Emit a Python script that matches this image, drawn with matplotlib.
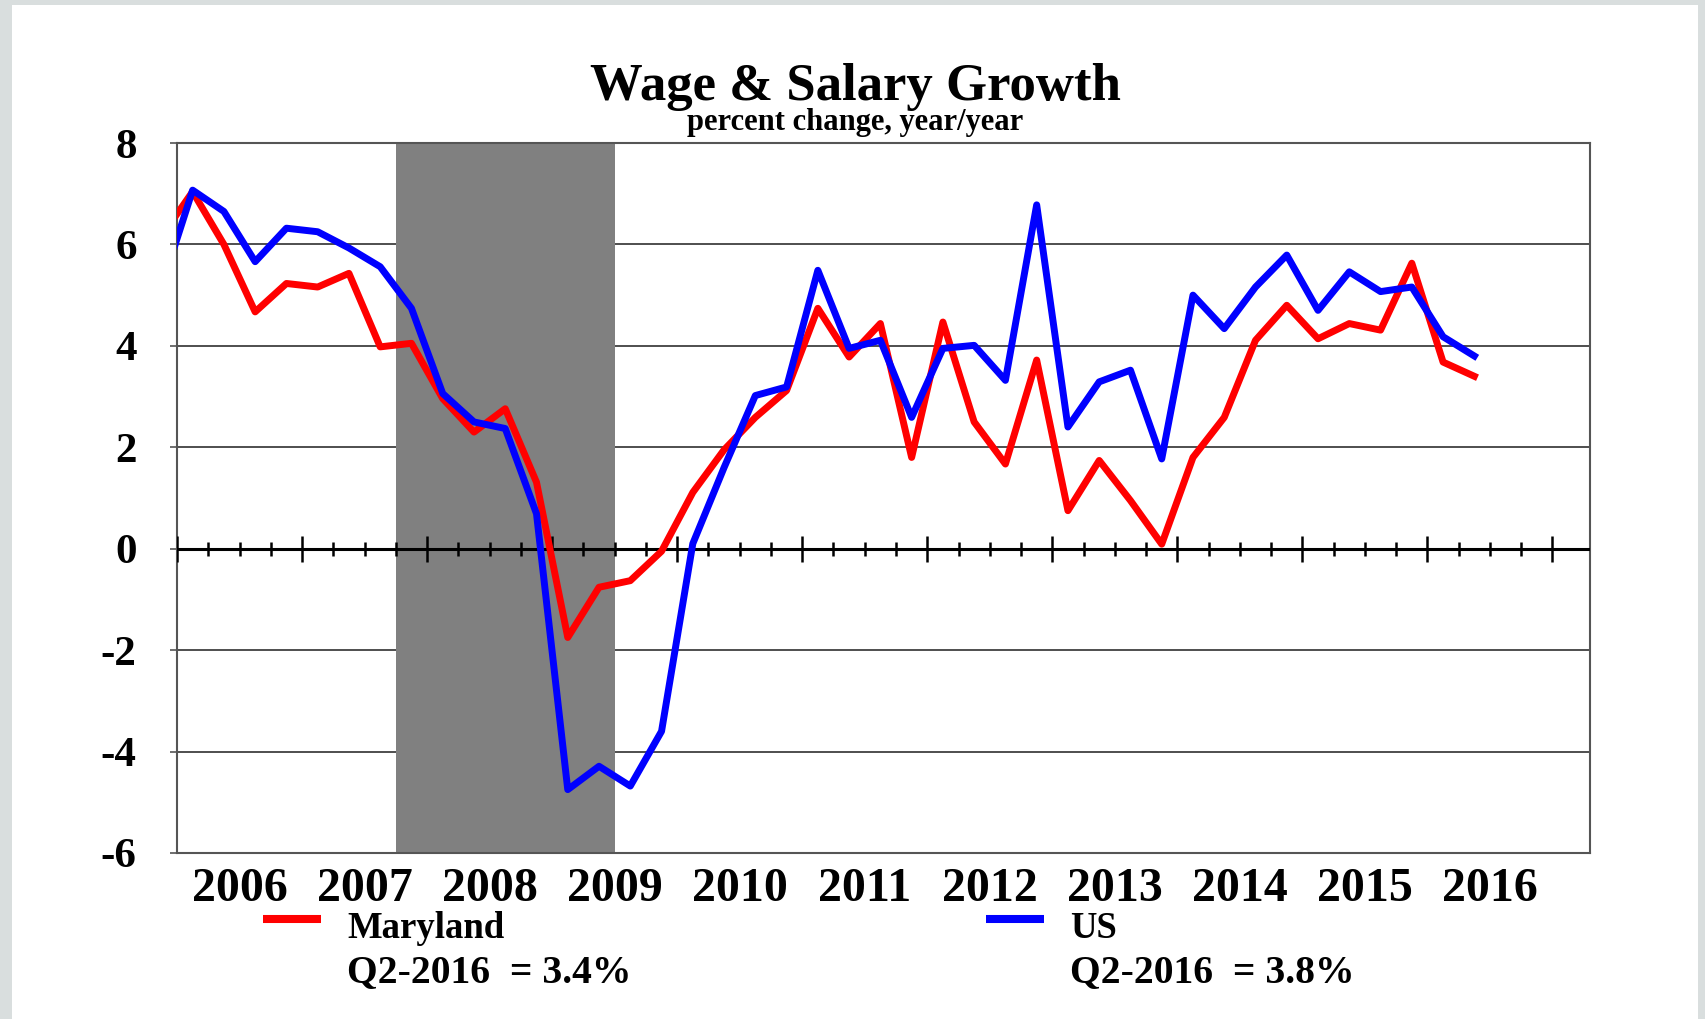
import numpy as np
import matplotlib
matplotlib.use("Agg")
import matplotlib.pyplot as plt
from matplotlib.lines import Line2D
from matplotlib.patches import Rectangle

plt.rcParams["font.family"] = ["Liberation Serif", "DejaVu Serif"]
plt.rcParams["font.weight"] = "bold"
plt.rcParams["axes.unicode_minus"] = False

# quarterly wage & salary growth, % y/y, first value is 2005 Q4 (just off the axis)
first_quarter = 2005.75
maryland = [6.16,
            7.04, 6.00, 4.67, 5.23,
            5.16, 5.43, 3.98, 4.05,
            2.96, 2.30, 2.76, 1.31,
            -1.75, -0.76, -0.63, -0.05,
            1.11, 1.95, 2.59, 3.12,
            4.74, 3.78, 4.44, 1.80,
            4.47, 2.50, 1.67, 3.72,
            0.75, 1.74, 0.95, 0.09,
            1.80, 2.59, 4.11, 4.80,
            4.14, 4.44, 4.31, 5.63,
            3.68, 3.40]
us = [5.15,
      7.07, 6.65, 5.66, 6.32,
      6.25, 5.93, 5.56, 4.74,
      3.06, 2.50, 2.37, 0.69,
      -4.75, -4.29, -4.68, -3.60,
      0.10, 1.60, 3.02, 3.19,
      5.49, 3.95, 4.11, 2.59,
      3.95, 4.01, 3.32, 6.78,
      2.40, 3.29, 3.52, 1.77,
      5.00, 4.34, 5.16, 5.79,
      4.70, 5.46, 5.07, 5.16,
      4.18, 3.80]
years = list(range(2006, 2017))
recession = (2007.75, 2009.5)
last_label = "Q2-2016"

W, H = 1705, 1019
fig = plt.figure(figsize=(W / 100, H / 100), dpi=100)
fig.patch.set_facecolor("#d9dede")
fig.add_artist(Rectangle((12 / W, 0), (1698 - 12) / W, (H - 5) / H,
                         transform=fig.transFigure, facecolor="white",
                         edgecolor="none", zorder=-1))

ax = fig.add_axes([177 / W, 1 - 853 / H, (1590 - 177) / W, (853 - 143) / H])
ax.set_facecolor("white")

x = first_quarter + 0.125 + 0.25 * np.arange(len(us))

ax.axvspan(*recession, color="#808080", lw=0, zorder=1)
ax.plot(x, maryland, color="#ff0000", lw=5.0, zorder=3)
ax.plot(x, us, color="#0000ff", lw=5.0, zorder=3)

# zero line with quarterly ticks, bigger ones at the year breaks
ax.axhline(0, color="black", lw=2.2, zorder=2.6)
qticks = np.arange(years[0], years[-1] + 1.01, 0.25)
major = np.isclose(qticks % 1, 0)
ax.vlines(qticks[major], -0.26, 0.26, color="black", lw=1.8, zorder=2.6)
ax.vlines(qticks[~major], -0.14, 0.14, color="black", lw=1.8, zorder=2.6)

ax.set_xlim(years[0], years[-1] + 1.3)
ax.set_ylim(-6, 8)
ax.set_yticks(range(-6, 9, 2))
ax.yaxis.grid(True, color="#303030", lw=1.2)
ax.set_axisbelow(True)
ax.tick_params(axis="y", direction="out", length=5, width=1.2, color="#555555",
               pad=24, labelsize=31)
ax.set_xticks([yr + 0.5 for yr in years])
ax.set_xticklabels([str(yr) for yr in years])
ax.tick_params(axis="x", length=0, pad=10, labelsize=34.5)
for side in ["left", "right", "top", "bottom"]:
    ax.spines[side].set_color("#555555")
    ax.spines[side].set_linewidth(1.5)

fig.text(855 / W, 1 - 100 / H, "Wage & Salary Growth", ha="center",
         va="baseline", fontsize=38)
fig.text(855 / W, 1 - 130 / H, "percent change, year/year", ha="center",
         va="baseline", fontsize=22)

# legend drawn by hand, two columns with the latest value underneath
for name, series, color, x0 in [("Maryland", maryland, "#ff0000", 263),
                                ("US", us, "#0000ff", 986)]:
    fig.add_artist(Line2D([x0 / W, (x0 + 58) / W], [1 - 919 / H] * 2,
                          color=color, lw=5.8, solid_capstyle="butt"))
    fig.text((x0 + 84) / W, 1 - 938 / H, name, va="baseline", fontsize=26.5)
    fig.text((x0 + 84) / W, 1 - 982 / H,
             f"{last_label}  = {series[-1]:.1f}%", va="baseline", fontsize=28.5)

fig.savefig("out.png", dpi=100, facecolor=fig.get_facecolor())
